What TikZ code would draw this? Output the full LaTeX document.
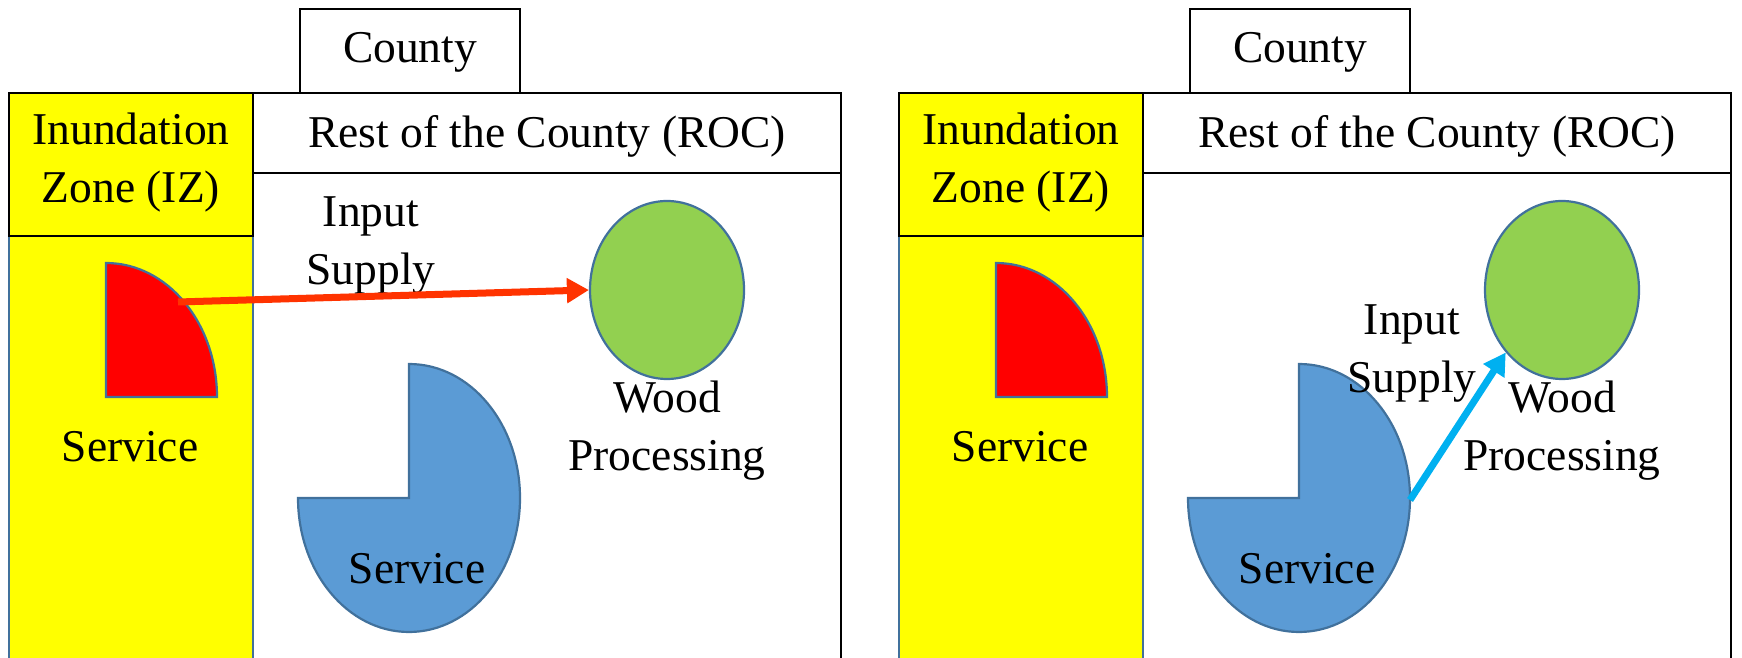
\documentclass[tikz,border=0pt]{standalone}
\usepackage{fontspec}
\setmainfont{Liberation Serif}
\usetikzlibrary{arrows.meta,shapes.geometric}
\definecolor{izyellow}{HTML}{FFFF00}
\definecolor{shapeline}{HTML}{41719C}
\definecolor{woodgreen}{HTML}{92D050}
\definecolor{servblue}{HTML}{5B9BD5}
\definecolor{arrred}{HTML}{FF3300}
\definecolor{arrblue}{HTML}{00B0F0}
\definecolor{quadred}{HTML}{FF0000}
\begin{document}
\begin{tikzpicture}[x=1pt,y=1pt,
  lbl/.style={font=\fontsize{45.5}{58}\selectfont, align=center, inner sep=0pt},
  boxline/.style={draw=black, line width=1.5pt, inner sep=0pt, font=\fontsize{45.5}{58}\selectfont, align=center},
  shapeedge/.style={draw=shapeline, line width=2.2pt},
  flow/.style={line width=7pt, -{Triangle[length=22pt,width=24pt]}}
]
\useasboundingbox (0,0) rectangle (1742,658);
\clip (0,0) rectangle (1742,658);
% ---------------- left panel ----------------
\fill[izyellow] (9,-10) rectangle (253,565);
\draw[shapeedge] (9,-10) -- (9,565);
\draw[shapeedge] (253,-10) -- (253,422);
\node[boxline, minimum width=220, minimum height=84] (countyL) at (410,607) {};
\node[lbl] (countyTL) at (410,606) {County};
\node[boxline, fill=izyellow, minimum width=244, minimum height=143] (izhL) at (131,493.5) {};
\node[lbl] (izTL) at (131,495) {Inundation\\Zone (IZ)};
\node[boxline, minimum width=588, minimum height=80] (rocL) at (547,525) {};
\node[lbl] (rocTL) at (547,521.5) {Rest of the County (ROC)};
\draw[line width=2.5pt] (841,565) -- (841,-10);
\draw[shapeedge, fill=quadred] (106,261) -- (106,395) arc[start angle=90,end angle=0,x radius=111,y radius=134] -- cycle;
\coordinate (redL) at (178,356);
\node[ellipse, shapeedge, fill=woodgreen, minimum width=154, minimum height=178, inner sep=0pt] (woodL) at (667,368) {};
\draw[shapeedge, fill=servblue] (409,160) -- (409,294) arc[start angle=90,end angle=-180,x radius=111,y radius=134] -- cycle;
\node[lbl] (servIZL) at (130,211) {Service};
\node[lbl] (servROCL) at (417,89) {Service};
\node[lbl] (woodtxtL) at (667,227.5) {Wood\\Processing};
\node[lbl] (inputL) at (371,412.5) {Input\\Supply};
\draw[flow, arrred] (redL) -- (woodL.west);
% ---------------- right panel ----------------
\fill[izyellow] (899,-10) rectangle (1143,565);
\draw[shapeedge] (899,-10) -- (899,565);
\draw[shapeedge] (1143,-10) -- (1143,422);
\node[boxline, minimum width=220, minimum height=84] (countyR) at (1300,607) {};
\node[lbl] (countyTR) at (1300,606) {County};
\node[boxline, fill=izyellow, minimum width=244, minimum height=143] (izhR) at (1021,493.5) {};
\node[lbl] (izTR) at (1021,495) {Inundation\\Zone (IZ)};
\node[boxline, minimum width=588, minimum height=80] (rocR) at (1437,525) {};
\node[lbl] (rocTR) at (1437,521.5) {Rest of the County (ROC)};
\draw[line width=2.5pt] (1731,565) -- (1731,-10);
\draw[shapeedge, fill=quadred] (996,261) -- (996,395) arc[start angle=90,end angle=0,x radius=111,y radius=134] -- cycle;
\node[ellipse, shapeedge, fill=woodgreen, minimum width=154, minimum height=178, inner sep=0pt] (woodR) at (1562,368) {};
\draw[shapeedge, fill=servblue] (1299,160) -- (1299,294) arc[start angle=90,end angle=-180,x radius=111,y radius=134] -- cycle;
\coordinate (blueR) at (1410,158);
\node[lbl] (servIZR) at (1020,211) {Service};
\node[lbl] (servROCR) at (1307,89) {Service};
\node[lbl] (woodtxtR) at (1562,227.5) {Wood\\Processing};
\node[lbl] (inputR) at (1412,304.5) {Input\\Supply};
\draw[flow, arrblue] (blueR) -- (woodR.228);
\end{tikzpicture}
\end{document}
